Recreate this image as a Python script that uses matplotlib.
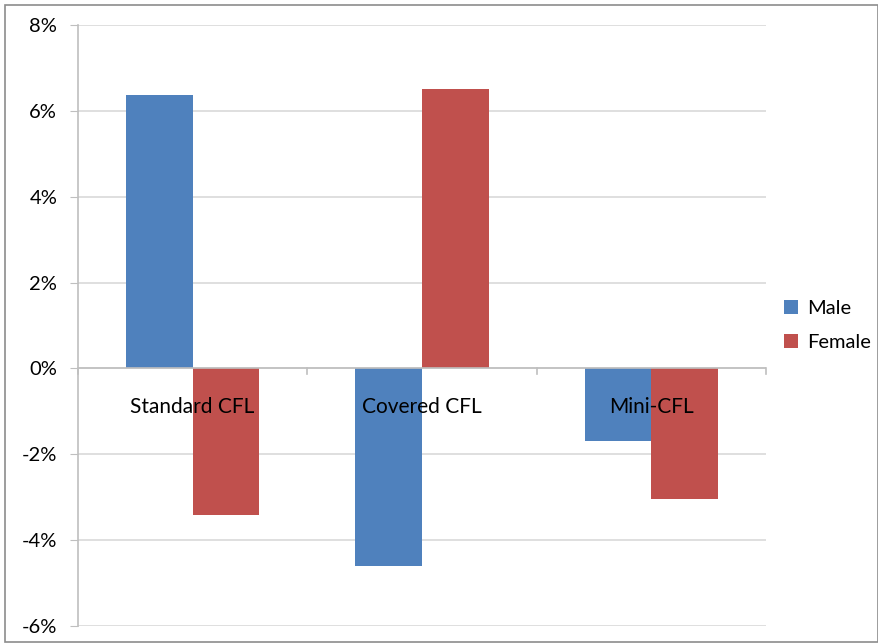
import matplotlib.pyplot as plt
from matplotlib.patches import Rectangle
from matplotlib.ticker import FuncFormatter
import numpy as np

# data (percent)
categories = ["Standard CFL", "Covered CFL", "Mini-CFL"]
male = [6.37, -4.60, -1.70]
female = [-3.42, 6.52, -3.05]
yticks = [-6, -4, -2, 0, 2, 4, 6, 8]

plt.rcParams['font.family'] = ['Lato', 'DejaVu Sans']

fig = plt.figure(figsize=(8.79, 6.44), dpi=100)
ax = fig.add_axes([78/879, 1 - 626/644, (766 - 78)/879, (626 - 25)/644])

x = np.arange(len(categories))
width = 0.29
ax.bar(x - width/2, male, width, color="#4F81BD", label="Male", zorder=3)
ax.bar(x + width/2, female, width, color="#C0504D", label="Female", zorder=3)

ax.set_xlim(-0.5, len(categories) - 0.5)
ax.set_ylim(-6, 8)
ax.set_yticks(yticks)
ax.yaxis.set_major_formatter(FuncFormatter(lambda v, p: f"{v:.0f}%"))
ax.tick_params(axis="y", length=6, color="#bfbfbf", labelsize=14.5, pad=9)
ax.grid(axis="y", color="#d9d9d9", linewidth=1.2, zorder=0)

# category axis sits at 0, ticks between categories
ax.set_xticks([])
for b in np.arange(-0.5, len(categories), 1.0):
    ax.plot([b, b], [0, -0.14], color="#bfbfbf", lw=1.2, clip_on=False, zorder=4)
ax.axhline(0, color="#bfbfbf", lw=1.2, zorder=4)
for i, c in enumerate(categories):
    ax.text(i, -0.9, c, ha="center", va="center", fontsize=15, zorder=5)

for side in ["top", "right", "bottom"]:
    ax.spines[side].set_visible(False)
ax.spines["left"].set_color("#bfbfbf")
ax.spines["left"].set_linewidth(1.2)

ax.legend(loc="center left", bbox_to_anchor=(1.0, 0.5), frameon=False,
          fontsize=14.5, handlelength=0.7, handleheight=0.7, handletextpad=0.45,
          labelspacing=0.85)

# outer chart frame
fig.patches.append(Rectangle((5/879, 2/644), 1 - 6/879, 1 - 7/644,
                             transform=fig.transFigure, fill=False,
                             edgecolor="#8c8c8c", lw=1.2))

fig.savefig("out.png", dpi=100)
